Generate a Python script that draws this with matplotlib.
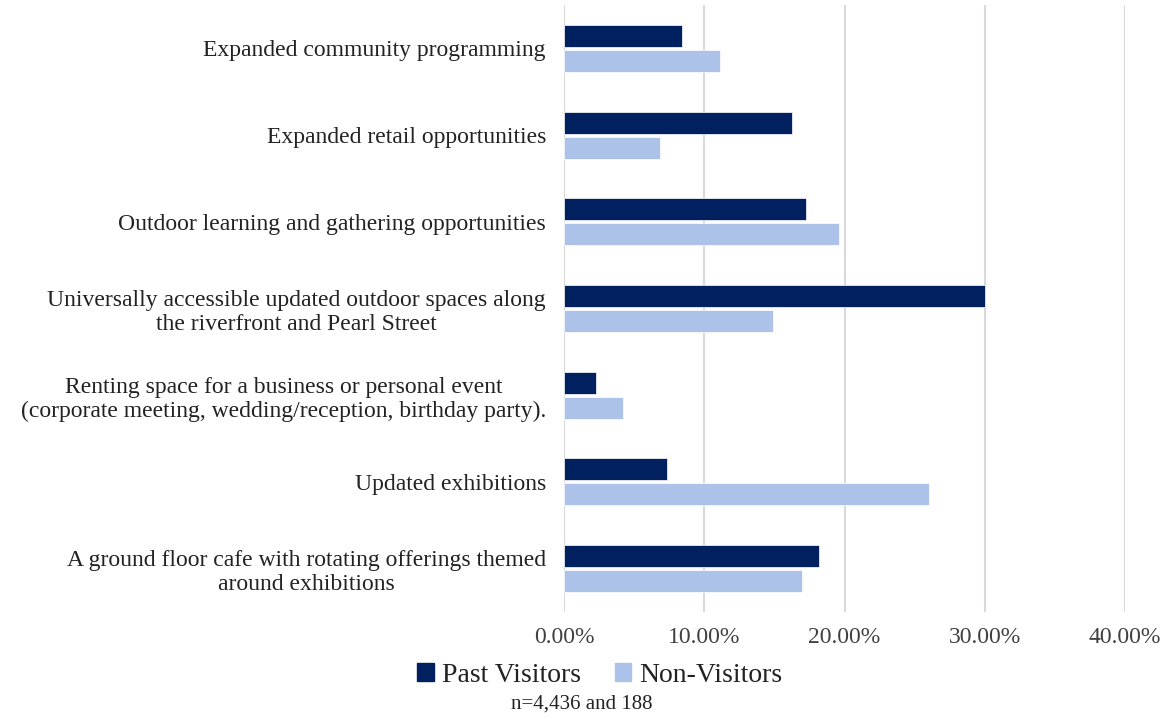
import matplotlib
matplotlib.use("Agg")
import matplotlib.pyplot as plt
import numpy as np
from matplotlib.patches import Patch

categories = [
    "Expanded community programming",
    "Expanded retail opportunities",
    "Outdoor learning and gathering opportunities",
    "Universally accessible updated outdoor spaces along\nthe riverfront and Pearl Street",
    "Renting space for a business or personal event\n(corporate meeting, wedding/reception, birthday party).",
    "Updated exhibitions",
    "A ground floor cafe with rotating offerings themed\naround exhibitions",
]
past_visitors = [8.38, 16.23, 17.27, 30.04, 2.28, 7.37, 18.20]
non_visitors = [11.15, 6.88, 19.63, 14.87, 4.23, 26.04, 16.99]
series_names = ["Past Visitors", "Non-Visitors"]
xticks = [0, 10, 20, 30, 40]
note = "n=4,436 and 188"

plt.rcParams['font.family'] = ['Liberation Serif', 'DejaVu Serif']

fig = plt.figure(figsize=(11.7, 7.19), dpi=100)
ax = fig.add_axes([564/1170, 1-612/719, (1125-564)/1170, (612-5)/719])

c_past = "#002060"
c_non = "#ADC2E8"
y = np.arange(len(categories))
h = 0.255
off = 0.144
ax.barh(y - off, past_visitors, height=h, color=c_past, edgecolor="white", linewidth=0.5, zorder=3)
ax.barh(y + off, non_visitors, height=h, color=c_non, edgecolor="white", linewidth=0.5, zorder=3)

ax.set_ylim(len(categories) - 0.5, -0.5)
ax.set_xlim(0, 40)
ax.set_xticks(xticks)
ax.set_xticklabels([f"{v:.2f}%" for v in xticks], fontsize=17, color="#404040")
ax.set_yticks(y)
ax.set_yticklabels(categories, fontsize=17, color="#222222", multialignment="center")
ax.tick_params(axis="both", length=0)
ax.tick_params(axis="x", pad=11)
ax.tick_params(axis="y", pad=13)
for s in ax.spines.values():
    s.set_visible(False)
ax.grid(axis="x", color="#d9d9d9", linewidth=1.5, zorder=0)
ax.set_axisbelow(True)

handles = [Patch(color=c_past), Patch(color=c_non)]
fig.legend(handles, series_names, loc="center", bbox_to_anchor=(600/1170, 1-675/719),
           ncol=2, frameon=False, fontsize=20, handlelength=0.6, handleheight=0.6,
           handletextpad=0.3, columnspacing=1.2, labelcolor="#222222")
fig.text(582/1170, 1-704/719, note, ha="center", va="center", fontsize=15, color="#222222")

fig.savefig("out.png", dpi=100)
